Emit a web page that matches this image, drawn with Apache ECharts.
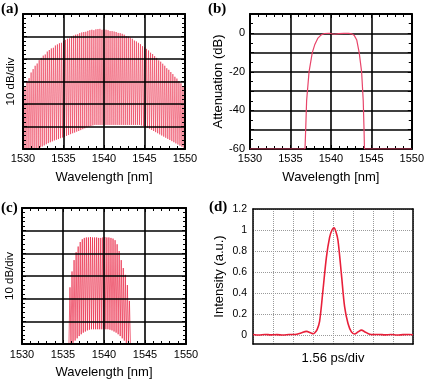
<!DOCTYPE html>
<html>
<head>
<meta charset="UTF-8">
<title>Comb spectra, filter and pulse</title>
<script src="https://cdn.jsdelivr.net/npm/echarts@6.0.0/dist/echarts.min.js"></script>
<style>
    body { margin: 0; padding: 0; background: #fff; }
    #chart { width: 427px; height: 380px; }
</style>
</head>
<body>
<div id="chart"></div>
<script>
// (a) comb spectrum: one line every 0.25 nm from 1530 nm, peak / trough levels (10 dB per div, 0..60)
const combAStart = 1530, combAStep = 0.25;
const combAPeaks = [25, 27.5, 30, 31.5, 34, 35.5, 37, 38, 39.5, 40.5,
    41.5, 42, 43.3, 44, 44.7, 45, 46, 46.5, 47, 47.2,
    48, 48.5, 49, 49.2, 50, 50.4, 50.8, 51, 51.5, 51.8,
    52, 52.1, 52.5, 52.8, 53, 52.8, 53.2, 53.3, 53.4, 53,
    53.2, 53, 52.8, 52.4, 52.4, 52.2, 52, 51.6, 51.5, 51.2,
    50.8, 50.2, 50, 49.5, 49, 48.2, 47.8, 47.2, 46.6, 45.7,
    45.2, 44.5, 43.8, 42.8, 42.2, 41.3, 40.5, 39.4, 38.8, 37.9,
    37, 35.9, 35.2, 34.2, 33.3, 32.1, 31.3, 30.2, 29.2, 28, 27];
const combATroughs = [0, 0, 0, 0, 0, 0, 0.2, 0.4, 0.7, 1.1,
    1.6, 2.1, 2.6, 3, 3.4, 3.8, 4.1, 4.4, 4.8, 5.1,
    5.4, 5.8, 6.2, 6.6, 7, 7.3, 7.7, 8, 8.4, 8.8,
    9.2, 9.6, 9.9, 10.2, 10.5, 10.7, 10.7, 10.7, 10.7, 10.7,
    10.7, 10.7, 10.7, 10.7, 10.7, 10.7, 10.7, 10.7, 10.7, 10.7,
    10.7, 10.7, 10.7, 10.7, 10.7, 10.7, 10.7, 10.7, 10.5, 10.2,
    9.8, 9.4, 9, 8.5, 8, 7.5, 7, 6.5, 6, 5.5,
    5, 4.5, 4, 3.5, 3, 2.5, 2, 1.5, 1, 0.5];

// (c) filtered comb
const combCStart = 1535.85, combCStep = 0.25;
const combCPeaks = [25, 32, 37, 40.5, 43, 45, 46.2, 46.8, 47, 47,
    47.2, 47, 47, 47, 46.8, 46.8, 47, 47.2, 47, 47,
    46.8, 46.5, 45.8, 44, 41, 37, 33.5, 30.5, 26, 19];
const combCTroughs = [0, 0.5, 1.5, 2.5, 3.5, 4.3, 5, 5.5, 6, 6.3,
    6.5, 6.5, 6.5, 6.5, 6.5, 6.5, 6.5, 6.5, 6.5, 6.3,
    6, 5.5, 5, 4.3, 3.5, 2.5, 1.5, 0.5, 0];

// (b) filter attenuation
const filterWl = [1530, 1536.8, 1536.9, 1537.0, 1537.3, 1537.7, 1538.0, 1538.4, 1538.8, 1539.2, 1539.8, 1540.4,
    1541.0, 1541.6, 1542.2, 1542.6, 1542.9, 1543.2, 1543.5, 1543.8, 1544.0, 1544.1, 1544.15, 1550];
const filterDb = [-60, -60, -48, -35, -20, -10, -6, -2.5, -0.8, -0.1, 0, -0.5,
    -0.2, 0, 0, -0.3, -1.2, -3.5, -10, -20, -35, -50, -60, -60];

// (d) pulse, time in divisions (1.56 ps/div)
const pulseT = [0, 0.3, 0.6, 0.9, 1.2, 1.5, 1.8, 2.1, 2.4, 2.67, 2.9, 3.0, 3.08, 3.2, 3.33, 3.5, 3.67, 3.83, 3.95,
    4.05, 4.15, 4.25, 4.42, 4.58, 4.75, 4.92, 5.08, 5.25, 5.42, 5.6, 5.8, 6.0, 6.3, 6.6, 6.9, 7.2, 7.5, 7.8, 8];
const pulseI = [0.005, 0, 0.006, 0.002, 0.004, 0, 0.005, 0.006, 0.02, 0.035, 0.02, 0.012, 0.02, 0.05, 0.13, 0.43, 0.74, 0.93, 1.0,
    1.02, 0.98, 0.9, 0.58, 0.27, 0.11, 0.03, 0.01, 0.03, 0.047, 0.03, 0.01, 0.004, 0.006, 0.002, 0.005, 0, 0.004, 0.006, 0.003];

const intensityTicks = [0, 0.2, 0.4, 0.6, 0.8, 1, 1.2];

function combData(start, step, peaks, troughs) {
    const pts = [[start - step / 2, 0]];
    peaks.forEach((p, i) => {
        pts.push([start + i * step, p]);
        if (i < troughs.length) pts.push([start + (i + 0.5) * step, troughs[i]]);
    });
    pts.push([start + (peaks.length - 0.5) * step, 0]);
    return pts;
}

const font = 'Liberation Sans';
const frame = { onZero: false, lineStyle: { color: '#000', width: 2 } };
const inTick = { show: true, inside: true, length: 4, lineStyle: { color: '#000', width: 1 } };
const darkSplit = { show: true, lineStyle: { color: '#000', width: 1.6 } };

function wlAxis(grid, pos, extra) {
    return Object.assign({
        type: 'value', gridIndex: grid, position: pos, min: 1530, max: 1550, interval: 5,
        axisLine: frame, axisTick: inTick,
        minorTick: { show: true, splitNumber: 5, length: 3, lineStyle: { color: '#000', width: 1 } },
        axisLabel: { show: false }, splitLine: { show: false }
    }, extra);
}
function wlLabels(gap, margin) {
    return {
        axisLabel: {
            show: true, fontSize: 11, color: '#000', fontFamily: font, margin: margin,
            showMinLabel: true, showMaxLabel: true, formatter: v => String(v)
        },
        name: 'Wavelength [nm]', nameLocation: 'middle', nameGap: gap, nameMoveOverlap: false,
        nameTextStyle: { fontSize: 13, color: '#000', fontFamily: font }
    };
}
function dbAxis(grid, pos, extra) {
    return Object.assign({
        type: 'value', gridIndex: grid, position: pos, min: 0, max: 60, interval: 10,
        axisLine: frame, axisTick: inTick,
        minorTick: { show: true, splitNumber: 5, length: 3, lineStyle: { color: '#000', width: 1 } },
        axisLabel: { show: false }, splitLine: { show: false }
    }, extra);
}
const divName = {
    name: '10 dB/div', nameLocation: 'middle', nameGap: 6, nameMoveOverlap: false,
    nameTextStyle: { fontSize: 11.5, color: '#000', fontFamily: font }
};

const chart = echarts.init(document.getElementById('chart'));
chart.setOption({
    animation: false,
    textStyle: { fontFamily: font },
    grid: [
        { left: 23, top: 14, width: 162, height: 135 },
        { left: 250, top: 14, width: 166, height: 135 },
        { left: 22, top: 208, width: 164, height: 136 },
        { left: 253, top: 209, width: 160, height: 135 }
    ],
    xAxis: [
        wlAxis(0, 'bottom', Object.assign({ z: 5, splitLine: darkSplit }, wlLabels(22, 4))),
        wlAxis(0, 'top', { z: 5 }),
        wlAxis(1, 'bottom', Object.assign({ splitLine: darkSplit }, wlLabels(22, 4))),
        wlAxis(1, 'top', {}),
        wlAxis(2, 'bottom', Object.assign({ z: 5, splitLine: darkSplit }, wlLabels(22, 5))),
        wlAxis(2, 'top', { z: 5 }),
        {
            type: 'value', gridIndex: 3, position: 'bottom', min: 0, max: 8, interval: 1,
            axisLine: { onZero: false, lineStyle: { color: '#000', width: 1.5 } },
            axisTick: { show: false }, axisLabel: { show: false },
            splitLine: { show: true, lineStyle: { color: '#9a9a9a', width: 1, type: 'dotted' } },
            name: '1.56 ps/div', nameLocation: 'middle', nameGap: 8, nameMoveOverlap: false,
            nameTextStyle: { fontSize: 13, color: '#000', fontFamily: font }
        },
        {
            type: 'value', gridIndex: 3, position: 'top', min: 0, max: 8,
            axisLine: { onZero: false, lineStyle: { color: '#000', width: 1.5 } },
            axisTick: { show: false }, axisLabel: { show: false }, splitLine: { show: false }
        }
    ],
    yAxis: [
        dbAxis(0, 'left', Object.assign({ z: 5, splitLine: darkSplit }, divName)),
        dbAxis(0, 'right', { z: 5 }),
        {
            type: 'value', gridIndex: 1, position: 'left', min: -60, max: 10, interval: 10,
            axisLine: frame, axisTick: inTick,
            minorTick: { show: true, splitNumber: 2, length: 3, lineStyle: { color: '#000', width: 1 } },
            axisLabel: {
                fontSize: 11, color: '#000', fontFamily: font, margin: 5,
                formatter: v => (v <= 0 && v % 20 === 0) ? String(v) : ''
            },
            splitLine: darkSplit,
            name: 'Attenuation (dB)', nameLocation: 'middle', nameGap: 25, nameMoveOverlap: false,
            nameTextStyle: { fontSize: 13, color: '#000', fontFamily: font }
        },
        {
            type: 'value', gridIndex: 1, position: 'right', min: -60, max: 10, interval: 10,
            axisLine: frame, axisTick: inTick,
            minorTick: { show: true, splitNumber: 2, length: 3, lineStyle: { color: '#000', width: 1 } },
            axisLabel: { show: false }, splitLine: { show: false }
        },
        dbAxis(2, 'left', Object.assign({ z: 5, splitLine: darkSplit }, divName)),
        dbAxis(2, 'right', { z: 5 }),
        {
            type: 'value', gridIndex: 3, position: 'left', min: -0.085, max: 1.2,
            axisLine: { onZero: false, lineStyle: { color: '#000', width: 1.5 } },
            axisTick: { show: false, customValues: intensityTicks },
            axisLabel: { fontSize: 10.5, color: '#000', fontFamily: font, margin: 6, customValues: intensityTicks },
            splitLine: { show: true, lineStyle: { color: '#9a9a9a', width: 1, type: 'dotted' } },
            name: 'Intensity (a.u.)', nameLocation: 'middle', nameGap: 27, nameMoveOverlap: false,
            nameTextStyle: { fontSize: 13, color: '#000', fontFamily: font }
        },
        {
            type: 'value', gridIndex: 3, position: 'right', min: -0.085, max: 1.2,
            axisLine: { onZero: false, lineStyle: { color: '#000', width: 1.5 } },
            axisTick: { show: false }, axisLabel: { show: false }, splitLine: { show: false }
        }
    ],
    series: [
        {
            type: 'line', xAxisIndex: 0, yAxisIndex: 0, symbol: 'none',
            data: combData(combAStart, combAStep, combAPeaks, combATroughs),
            lineStyle: { color: '#e81e3e', width: 0.6, opacity: 0.9 }
        },
        {
            type: 'line', xAxisIndex: 2, yAxisIndex: 2, symbol: 'none',
            data: filterWl.map((w, i) => [w, filterDb[i]]),
            lineStyle: { color: '#e8456a', width: 1.2 }
        },
        {
            type: 'line', xAxisIndex: 4, yAxisIndex: 4, symbol: 'none',
            data: combData(combCStart, combCStep, combCPeaks, combCTroughs),
            lineStyle: { color: '#e81e3e', width: 0.7, opacity: 0.95 }
        },
        {
            type: 'line', xAxisIndex: 6, yAxisIndex: 6, symbol: 'none', smooth: 0.3,
            data: pulseT.map((t, i) => [t, pulseI[i]]),
            lineStyle: { color: '#e8203a', width: 1.6 }
        }
    ],
    graphic: [
        { type: 'text', left: 1, top: 2, style: { text: '(a)', font: 'bold 15px "Liberation Serif"', fill: '#000' } },
        { type: 'text', left: 208, top: 2, style: { text: '(b)', font: 'bold 15px "Liberation Serif"', fill: '#000' } },
        { type: 'text', left: 1, top: 201, style: { text: '(c)', font: 'bold 15px "Liberation Serif"', fill: '#000' } },
        { type: 'text', left: 209, top: 200, style: { text: '(d)', font: 'bold 15px "Liberation Serif"', fill: '#000' } }
    ]
});
</script>
</body>
</html>
